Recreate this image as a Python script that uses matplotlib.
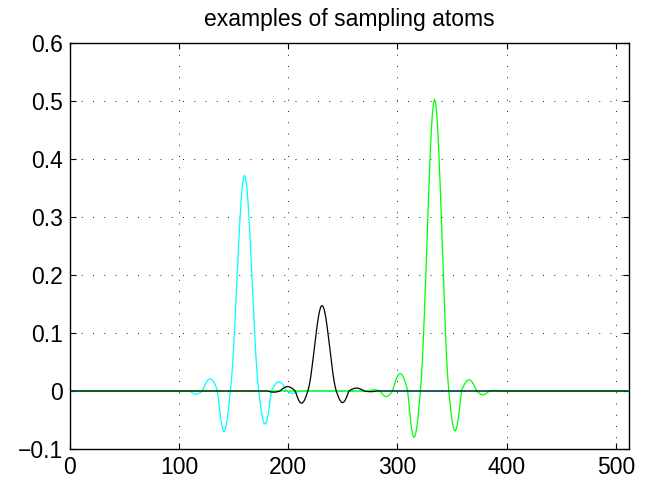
import matplotlib
matplotlib.use("Agg")
import matplotlib.pyplot as plt
import numpy as np

# ---------------------------------------------------------------------------
# Data (read off the reference, sampled at integer positions 0..511)
# ---------------------------------------------------------------------------

n_samples = 512

# cyan atom, nonzero part starts at x=110
cyan_start = 110
cyan_y = [
    0.0, -0.0015, -0.0029, -0.0040, -0.0049, -0.0054, -0.0055, -0.0052, -0.0045, -0.0035,
    -0.0022, -0.0007, 0.0024, 0.0069, 0.0112, 0.0148, 0.0178, 0.0198, 0.0209, 0.0209,
    0.0198, 0.0178, 0.0148, 0.0112, 0.0069, 0.0024, -0.0095, -0.0279, -0.0442, -0.0572,
    -0.0659, -0.0699, -0.0685, -0.0622, -0.0512, -0.0364, -0.0189, 0.0, 0.0186, 0.0428,
    0.0744, 0.1105, 0.1488, 0.1886, 0.2284, 0.2667, 0.3013, 0.3311, 0.3534, 0.3672,
    0.372,
    0.3672, 0.3534, 0.3311, 0.3013, 0.2667, 0.2284, 0.1886, 0.1488, 0.1105, 0.0744,
    0.0428, 0.0186, 0.0, -0.0154, -0.0296, -0.0417, -0.0506, -0.0558, -0.0569, -0.0537,
    -0.0466, -0.0360, -0.0227, -0.0078, 0.0018, 0.0053, 0.0085, 0.0113, 0.0136, 0.0151,
    0.0159, 0.0159, 0.0151, 0.0136, 0.0113, 0.0085, 0.0053, 0.0018, -0.0005, -0.0016,
    -0.0025, -0.0033, -0.0038, -0.0040, -0.0039, -0.0036, -0.0029, -0.0021, -0.0011, 0.0,
]

# black atom, nonzero part starts at x=181
black_start = 181
black_y = [
    0.0, -0.0005, -0.0010, -0.0015, -0.0018, -0.0020, -0.0020, -0.0019, -0.0016, -0.0013,
    -0.0008, -0.0003, 0.0008, 0.0025, 0.0040, 0.0053, 0.0064, 0.0071, 0.0075, 0.0075,
    0.0071, 0.0064, 0.0053, 0.0040, 0.0025, 0.0008, -0.0029, -0.0084, -0.0133, -0.0172,
    -0.0198, -0.0210, -0.0206, -0.0186, -0.0154, -0.0109, -0.0057, 0.0, 0.0074, 0.0170,
    0.0295, 0.0438, 0.0590, 0.0748, 0.0906, 0.1058, 0.1195, 0.1313, 0.1401, 0.1456,
    0.1475,
    0.1456, 0.1401, 0.1313, 0.1195, 0.1058, 0.0906, 0.0748, 0.0590, 0.0438, 0.0295,
    0.0170, 0.0074, 0.0, -0.0054, -0.0104, -0.0146, -0.0178, -0.0196, -0.0200, -0.0188,
    -0.0163, -0.0126, -0.0080, -0.0027, 0.0006, 0.0017, 0.0027, 0.0035, 0.0042, 0.0047,
    0.0050, 0.0050, 0.0047, 0.0042, 0.0035, 0.0027, 0.0017, 0.0006, -0.0002, -0.0005,
    -0.0008, -0.0010, -0.0011, -0.0012, -0.0012, -0.0011, -0.0009, -0.0006, -0.0003, 0.0,
]

# green atom, nonzero part starts at x=273
green_start = 273
green_y = [
    0.0, 0.0006, 0.0011, 0.0015, 0.0018, 0.0020, 0.0020, 0.0018, 0.0015, 0.0011,
    0.0006, 0.0, -0.0026, -0.0049, -0.0069, -0.0084, -0.0093, -0.0095, -0.0089, -0.0078,
    -0.0060, -0.0038, -0.0013, 0.0034, 0.0099, 0.0160, 0.0212, 0.0254, 0.0283, 0.0298,
    0.0298, 0.0283, 0.0254, 0.0212, 0.0160, 0.0099, 0.0034, -0.0109, -0.0319, -0.0505,
    -0.0654, -0.0754, -0.0798, -0.0783, -0.0710, -0.0585, -0.0416, -0.0216, 0.0, 0.0252,
    0.0578, 0.1006, 0.1494, 0.2012, 0.2550, 0.3088, 0.3607, 0.4074, 0.4477, 0.4779,
    0.4965, 0.503, 0.4965, 0.4779, 0.4477, 0.4074, 0.3607, 0.3088, 0.2550, 0.2012,
    0.1494, 0.1006, 0.0578, 0.0252, 0.0, -0.0186, -0.0359, -0.0504, -0.0613, -0.0676,
    -0.0689, -0.0650, -0.0564, -0.0435, -0.0275, -0.0094, 0.0022, 0.0064, 0.0103, 0.0137,
    0.0164, 0.0183, 0.0193, 0.0193, 0.0183, 0.0164, 0.0137, 0.0103, 0.0064, 0.0022,
    -0.0009, -0.0026, -0.0042, -0.0054, -0.0062, -0.0066, -0.0065, -0.0059, -0.0048, -0.0034,
    -0.0018, 0.0, 0.0003, 0.0005, 0.0008, 0.0009, 0.0010, 0.0010, 0.0009, 0.0008,
    0.0005, 0.0003, 0.0,
]

x_ticks = [0, 100, 200, 300, 400, 500]
y_ticks = [-0.1, 0, 0.1, 0.2, 0.3, 0.4, 0.5, 0.6]
y_tick_labels = ['\u22120.1', '0', '0.1', '0.2', '0.3', '0.4', '0.5', '0.6']


def full_atom(start, vals):
    # atoms are zero outside the listed part
    y = np.zeros(n_samples)
    y[start:start + len(vals)] = vals
    return y


x = np.arange(n_samples)
# drawing order cyan, green, black: the overlapping zero parts blend
# into the dark green/teal baseline seen in the reference
atoms = [
    (full_atom(cyan_start, cyan_y), 'cyan'),
    (full_atom(green_start, green_y), '#00ff00'),
    (full_atom(black_start, black_y), 'black'),
]

# ---------------------------------------------------------------------------
# Plot
# ---------------------------------------------------------------------------

plt.rcParams['font.family'] = ['Liberation Sans', 'DejaVu Sans']

fig = plt.figure(figsize=(6.59, 4.8), dpi=100)
# bottom 31 px, height 406 px -> y=0 lands on a pixel boundary
ax = fig.add_axes([0.1058, 31 / 480, 0.8487, 406 / 480])

for y, col in atoms:
    ax.plot(x, y, color=col, linewidth=0.9)

ax.set_xlim(0, 512)
ax.set_ylim(-0.1, 0.6)
ax.set_xticks(x_ticks)
ax.set_yticks(y_ticks)
ax.set_yticklabels(y_tick_labels)

ax.grid(True, color='black', linestyle=(0, (1.2, 12.3)), linewidth=0.6)
ax.tick_params(direction='in', length=4, width=0.8, top=True, right=True,
               labelsize=16.5, pad=5)
for sp in ax.spines.values():
    sp.set_linewidth(1.0)

ax.set_title('examples of sampling atoms', fontsize=16.5, pad=12)

fig.savefig('out.png', dpi=100)
